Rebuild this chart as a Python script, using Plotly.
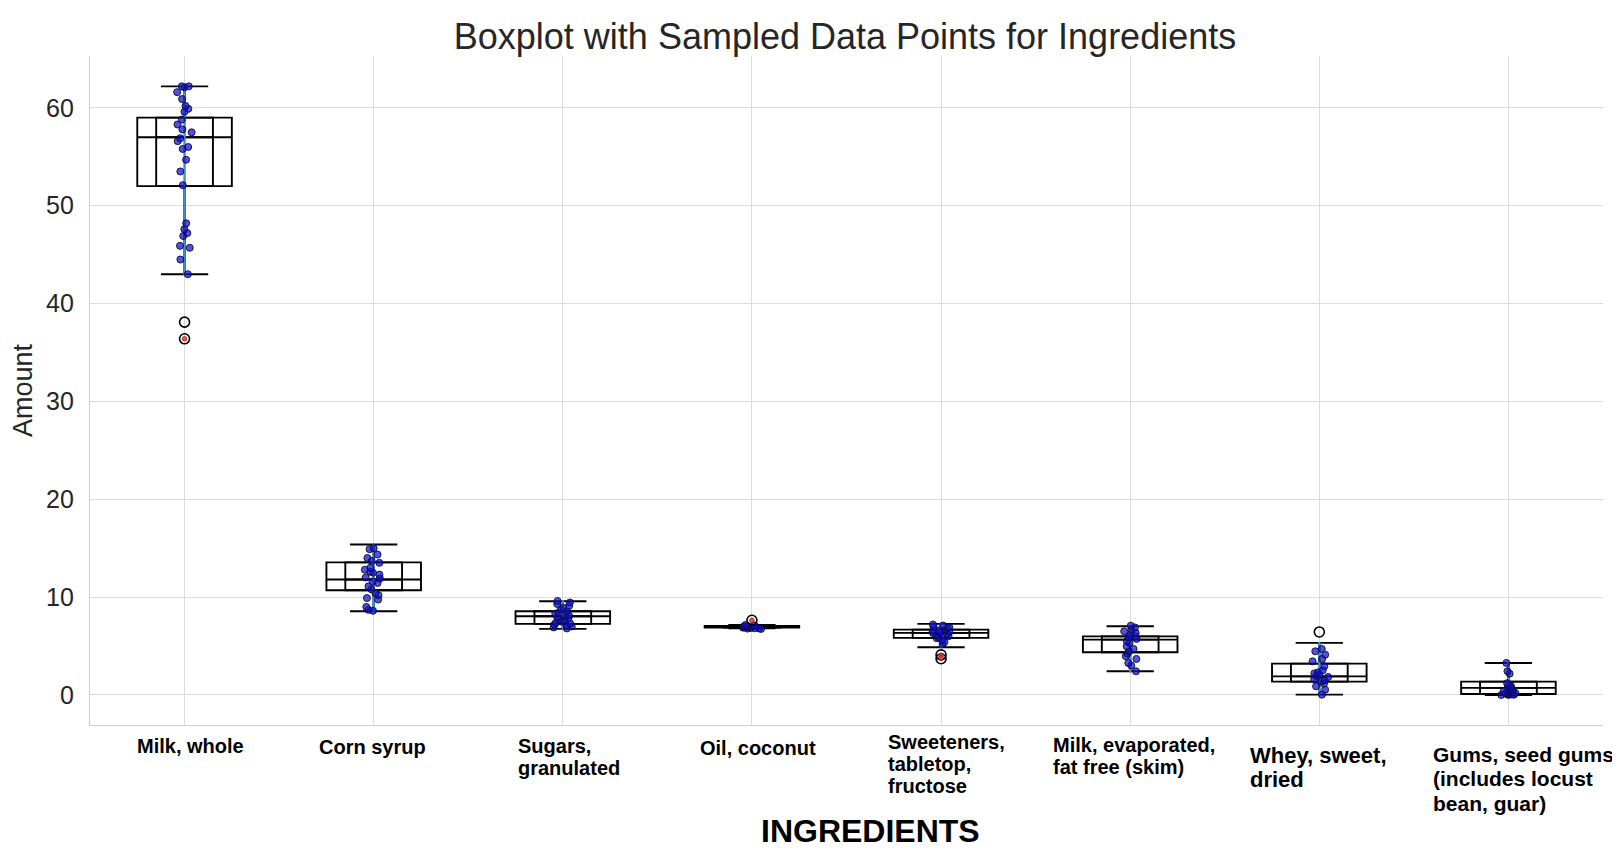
import plotly.graph_objects as go

# ---------------- data ----------------
categories = ["Milk, whole", "Corn syrup", "Sugars, granulated", "Oil, coconut",
              "Sweeteners, tabletop, fructose", "Milk, evaporated, fat free (skim)",
              "Whey, sweet, dried", "Gums, seed gums (includes locust bean, guar)"]
tick_labels = ["Milk, whole", "Corn syrup", "Sugars,\ngranulated", "Oil, coconut",
               "Sweeteners,\ntabletop,\nfructose", "Milk, evaporated,\nfat free (skim)",
               "Whey, sweet,\ndried", "Gums, seed gums\n(includes locust\nbean, guar)"]

q1 = [52.0, 10.7, 7.26, 6.88, 5.83, 4.36, 1.36, 0.10]
median = [57.0, 11.8, 8.04, 6.97, 6.34, 5.66, 1.90, 0.72]
q3 = [59.0, 13.55, 8.55, 7.06, 6.68, 5.99, 3.20, 1.36]
lower_whisker = [43.0, 8.55, 6.75, 6.80, 4.87, 2.42, 0.03, 0.0]
upper_whisker = [62.2, 15.37, 9.57, 7.15, 7.26, 7.02, 5.32, 3.27]

# outliers of the full data (hollow circles)
outliers = [[38.1, 36.4], [], [], [7.63], [4.1, 3.7], [], [6.44], []]
# sampled points lying outside the whiskers (red)
sampled_outliers = [[36.4], [], [], [7.63], [4.05, 3.8], [], [], []]

milk_whole = [62.2, 62.2, 62.1, 61.6, 60.9, 60.2, 59.9, 59.6, 58.8, 58.3, 57.8, 57.5, 56.9,
              56.6, 56.0, 55.8, 54.7, 53.5, 52.1, 48.2, 47.6, 47.2, 46.9, 45.9, 45.7, 44.5, 43.0]
corn_syrup = [15.0, 14.9, 14.35, 14.0, 13.7, 13.5, 13.0, 12.8, 12.6, 12.5, 12.3, 12.0, 11.9,
              11.6, 11.45, 11.1, 10.8, 10.4, 10.2, 9.9, 9.75, 9.0, 8.7, 8.6]
sugars = [9.6, 9.45, 9.3, 9.1, 8.9, 8.7, 8.55, 8.4, 8.3, 8.15, 8.05, 7.95, 7.85, 7.7, 7.6,
          7.5, 7.4, 7.3, 7.2, 7.1, 7.0, 6.9, 6.8]
oil_coconut = [7.15, 7.1, 7.05, 7.0, 6.98, 6.95, 6.93, 6.9, 6.88, 6.85, 6.82, 6.8, 6.78, 6.75]
sweeteners = [7.2, 7.1, 7.0, 6.9, 6.85, 6.7, 6.6, 6.5, 6.45, 6.4, 6.3, 6.25, 6.2, 6.1, 6.0,
              5.9, 5.8, 5.6, 5.4, 5.2]
milk_evaporated = [7.08, 6.9, 6.68, 6.5, 6.34, 6.17, 6.0, 5.93, 5.73, 5.5, 5.32, 4.97, 4.7,
                   4.46, 4.22, 3.95, 3.68, 3.27, 3.0, 2.42]
whey = [4.7, 4.46, 4.12, 3.68, 3.44, 2.93, 2.52, 2.31, 2.2, 2.08, 1.95, 1.84, 1.64, 1.5,
        1.39, 1.16, 0.88, 0.54, 0.03]
gums = [3.27, 2.42, 2.18, 1.2, 1.05, 0.9, 0.8, 0.7, 0.6, 0.5, 0.45, 0.4, 0.3, 0.25, 0.2,
        0.15, 0.1, 0.05, 0.02, 0.0, 0.0]
samples = [milk_whole, corn_syrup, sugars, oil_coconut, sweeteners, milk_evaporated, whey, gums]

y_ticks = [0, 10, 20, 30, 40, 50, 60]

# ---------------- figure ----------------
TXT = "#262626"
W, H = 1612, 842   # page body has an 8px margin
fig = go.Figure()

box_common = dict(x=categories, q1=q1, median=median, q3=q3,
                  lowerfence=lower_whisker, upperfence=upper_whisker,
                  boxpoints=False, fillcolor="white", hoverinfo="skip", showlegend=False)
# wide box
fig.add_trace(go.Box(**box_common, width=0.5, whiskerwidth=0.5,
                     line=dict(color="black", width=1.9)))
# narrow inner box
fig.add_trace(go.Box(**{**box_common, "fillcolor": "rgba(0,0,0,0)"}, width=0.3, whiskerwidth=0,
                     line=dict(color="black", width=1.9)))
# blue whisker line
fig.add_trace(go.Box(x=categories, q1=lower_whisker, median=lower_whisker, q3=upper_whisker,
                     lowerfence=lower_whisker, upperfence=upper_whisker, boxpoints=False,
                     width=0.002, whiskerwidth=0, fillcolor="#3b8ed0",
                     line=dict(color="#3b8ed0", width=2), hoverinfo="skip", showlegend=False))

# jittered sample points
px, py = [], []
for cat, vals in zip(categories, samples):
    px += [cat] * len(vals)
    py += vals
fig.add_trace(go.Box(x=px, y=py, boxpoints="all", jitter=1, pointpos=0, width=0.1,
                     fillcolor="rgba(0,0,0,0)", line=dict(color="rgba(0,0,0,0)", width=0),
                     marker=dict(color="rgba(15,15,215,0.72)", size=7,
                                 line=dict(color="rgba(10,10,50,0.9)", width=1)),
                     hoverinfo="y", showlegend=False))

# outliers (hollow)
ox, oy = [], []
for cat, vals in zip(categories, outliers):
    ox += [cat] * len(vals)
    oy += vals
fig.add_trace(go.Scatter(x=ox, y=oy, mode="markers", showlegend=False,
                         marker=dict(symbol="circle-open", color="black", size=10,
                                     line=dict(width=1.6))))
# red sampled outliers
rx, ry = [], []
for cat, vals in zip(categories, sampled_outliers):
    rx += [cat] * len(vals)
    ry += vals
fig.add_trace(go.Scatter(x=rx, y=ry, mode="markers", showlegend=False,
                         marker=dict(color="rgba(235,50,40,0.85)", size=5,
                                     line=dict(color="rgba(60,10,10,0.7)", width=0.5))))

# category labels: one annotation per line, left aligned within each block
label_left = [-49, -56, -46, -53, -54, -78, -70, -76]     # px from category centre
label_first = [-21, -22, -21, -23, -17, -20, -30, -29]     # px below the axis (first line centre)
label_size = [20, 20, 20, 20, 20, 20, 22, 21]
label_step = [22.2, 22.2, 22.2, 22.2, 22.2, 22.2, 24.8, 24.8]
for cat, lab, dx, dy, fs, step in zip(categories, tick_labels, label_left, label_first,
                                      label_size, label_step):
    for k, line in enumerate(lab.split("\n")):
        fig.add_annotation(x=cat, xref="x", y=0, yref="paper", text=f"<b>{line}</b>",
                           showarrow=False, xanchor="left", yanchor="middle",
                           xshift=dx, yshift=dy - k * step, borderpad=0,
                           font=dict(family="Liberation Sans, Arial", size=fs, color="black"))

fig.add_annotation(x=(871 - 90) / 1513, xref="paper", y=0, yref="paper", text="<b>INGREDIENTS</b>",
                   showarrow=False, xanchor="center", yanchor="middle", yshift=-106, borderpad=0,
                   font=dict(family="Liberation Sans, Arial", size=32, color="black"))

fig.update_layout(
    width=W, height=H,
    margin=dict(l=82, r=17, t=48, b=125),
    paper_bgcolor="white", plot_bgcolor="white",
    boxmode="overlay",
    font=dict(family="Liberation Sans, Arial", color=TXT),
    title=dict(text="Boxplot with Sampled Data Points for Ingredients", x=(845 - 8) / W,
               xref="container", xanchor="center", y=1 - 28 / H, yanchor="middle",
               font=dict(size=36, color=TXT)),
    xaxis=dict(type="category", categoryorder="array", categoryarray=categories,
               range=[-0.5, 7.5], showgrid=True, gridcolor="#dcdcdc", gridwidth=1.2,
               showticklabels=False, ticks="", showline=True, linecolor="#cfcfcf", linewidth=1.2,
               zeroline=False),
    yaxis=dict(range=[-3.07, 65.3], tickvals=y_ticks, showgrid=True, gridcolor="#dcdcdc",
               gridwidth=1.2, zeroline=False, showline=True, linecolor="#cfcfcf", linewidth=1.2,
               ticks="", ticklabelstandoff=10, tickfont=dict(size=25, color=TXT),
               title=dict(text="Amount", font=dict(size=27, color=TXT), standoff=6)),
)

fig.write_html("out.html")
